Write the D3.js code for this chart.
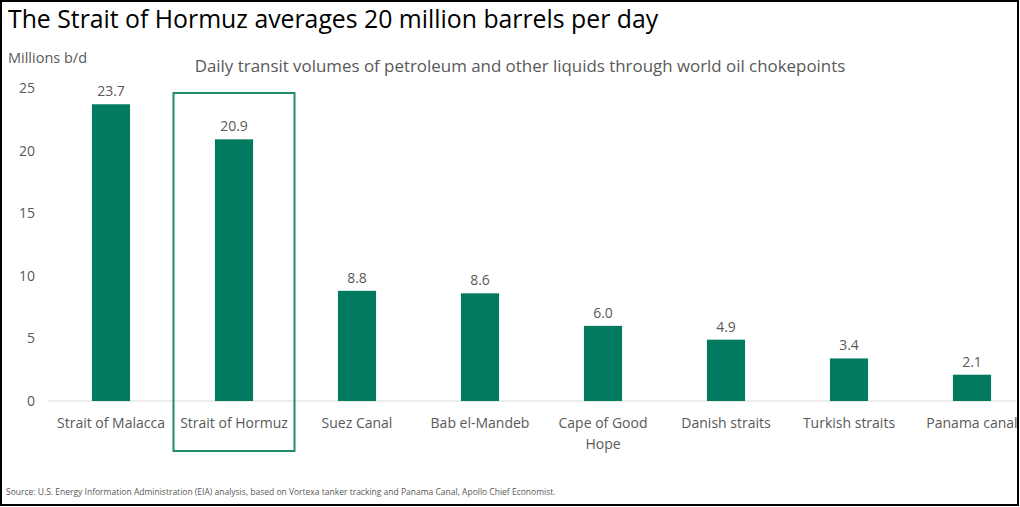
<!DOCTYPE html>
<html>
<head>
<meta charset="utf-8">
<script src="https://cdn.jsdelivr.net/npm/d3@7"></script>
<style>
  body { margin: 0; background: #fff; }
  svg { display: block; font-family: "Open Sans", "Noto Sans", sans-serif; }
</style>
</head>
<body>
<div id="chart"></div>
<script>
// chokepoint volumes, millions of barrels per day
var categories = ["Strait of Malacca", "Strait of Hormuz", "Suez Canal", "Bab el-Mandeb",
    "Cape of Good Hope", "Danish straits", "Turkish straits", "Panama canal"];
var values = [23.7, 20.9, 8.8, 8.6, 6.0, 4.9, 3.4, 2.1];
var yTicks = [0, 5, 10, 15, 20, 25];
var highlight = "Strait of Hormuz";

var width = 1020, height = 507;
var green = "#017a5f", grey = "#595959";

var svg = d3.select("#chart").append("svg").attr("width", width).attr("height", height);

var x = d3.scaleBand().domain(categories).range([49.5, 1033.5])
    .paddingInner(0.69).paddingOuter(0.345);
var y = d3.scaleLinear().domain([0, 25]).range([401, 88]);

// title + labels
svg.append("text").attr("x", 8).attr("y", 28)
    .attr("font-size", 24.8).attr("fill", "#000")
    .text("The Strait of Hormuz averages 20 million barrels per day");

svg.append("text").attr("x", 8).attr("y", 63)
    .attr("font-size", 14.5).attr("fill", grey).text("Millions b/d");

svg.append("text").attr("x", 520).attr("y", 72).attr("text-anchor", "middle")
    .attr("font-size", 16.9).attr("fill", grey)
    .text("Daily transit volumes of petroleum and other liquids through world oil chokepoints");

// baseline
svg.append("line").attr("x1", 48).attr("x2", 1016)
    .attr("y1", y(0)).attr("y2", y(0))
    .attr("stroke", "#d9d9d9").attr("stroke-width", 1);

// y axis
var yAxis = svg.append("g").attr("transform", "translate(35,0)")
    .call(d3.axisLeft(y).tickValues(yTicks).tickSize(0).tickPadding(0));
yAxis.select(".domain").remove();
yAxis.selectAll("text").attr("font-size", 14).attr("fill", grey)
    .attr("font-family", "'Open Sans', sans-serif");

var data = categories.map(function (c, i) { return { name: c, value: values[i] }; });

// bars
svg.selectAll("rect.bar").data(data).enter().append("rect")
    .attr("class", "bar")
    .attr("x", function (d) { return x(d.name); })
    .attr("y", function (d) { return y(d.value); })
    .attr("width", x.bandwidth())
    .attr("height", function (d) { return y(0) - y(d.value); })
    .attr("fill", green);

// value labels
svg.selectAll("text.val").data(data).enter().append("text")
    .attr("class", "val")
    .attr("x", function (d) { return x(d.name) + x.bandwidth() / 2; })
    .attr("y", function (d) { return y(d.value) - 8; })
    .attr("text-anchor", "middle").attr("font-size", 14).attr("fill", grey)
    .text(function (d) { return d.value.toFixed(1); });

// category labels (wrap Cape of Good Hope)
var cat = svg.selectAll("text.cat").data(data).enter().append("text")
    .attr("class", "cat")
    .attr("x", function (d) { return x(d.name) + x.bandwidth() / 2; })
    .attr("y", 428)
    .attr("text-anchor", "middle").attr("font-size", 14).attr("fill", grey);
cat.each(function (d) {
    var lines = d.name === "Cape of Good Hope" ? ["Cape of Good", "Hope"] : [d.name];
    var t = d3.select(this);
    lines.forEach(function (l, i) {
        t.append("tspan").attr("x", x(d.name) + x.bandwidth() / 2)
            .attr("dy", i === 0 ? 0 : 21).text(l);
    });
});

// highlight box around Hormuz
var hx = x(highlight) + x.bandwidth() / 2;
svg.append("rect")
    .attr("x", hx - x.step() / 2 + 1).attr("y", 93)
    .attr("width", x.step() - 2).attr("height", 358)
    .attr("fill", "none").attr("stroke", "#1f8a6c").attr("stroke-width", 2);

// source
svg.append("text").attr("x", 6).attr("y", 495)
    .attr("font-size", 8.5).attr("fill", grey)
    .text("Source: U.S. Energy Information Administration (EIA) analysis, based on Vortexa tanker tracking and Panama Canal, Apollo Chief Economist.");

// outer frame
svg.append("rect").attr("x", 1).attr("y", 1).attr("width", width - 3).attr("height", height - 3)
    .attr("fill", "none").attr("stroke", "#000").attr("stroke-width", 2);
</script>
</body>
</html>
